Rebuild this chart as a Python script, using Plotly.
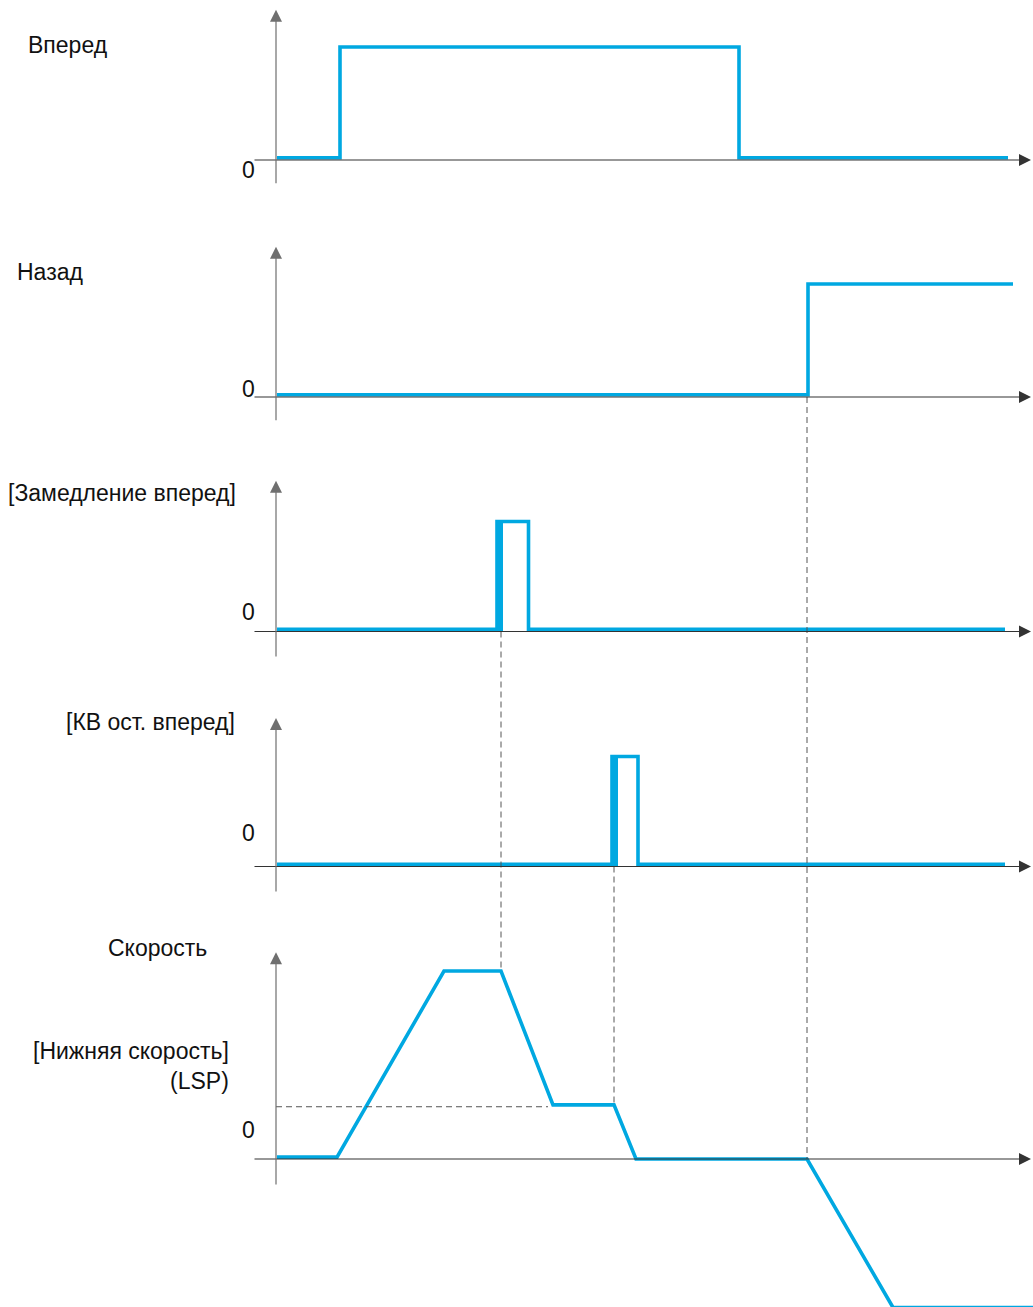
import plotly.graph_objects as go

W, H = 1033, 1307
X0_PX, PX_PER_T = 276.0, 10.0          # pixel of t=0, pixels per time unit

# ---------------- data ----------------
forward_t = [0.1, 6.4, 46.3, 73.2]
forward_v = [0.02, 1, 0.02, 0.02]

reverse_t = [0.1, 53.2, 73.7]
reverse_v = [0.02, 1, 1]

decel_t = [0.1, 22.1, 25.25, 72.9]
decel_v = [0.02, 1, 0.02, 0.02]
decel_burst = [22.0, 22.7]

stop_t = [0.1, 33.6, 36.2, 72.9]
stop_v = [0.02, 1, 0.02, 0.02]
stop_burst = [33.5, 34.2]

speed_t = [0.1, 6.1, 16.8, 22.5, 27.7, 33.8, 36.0, 53.1, 61.7, 76.0]
speed_hz = [0.5, 0.5, 50, 50, 14.4, 14.4, 0, 0, -39.5, -39.5]
LSP_HZ = 14.4
lsp_dash_end_t = 27.2

labels = ["Вперед", "Назад", "[Замедление вперед]", "[КВ ост. вперед]",
          "Скорость", "[Нижняя скорость]<br>(LSP)"]

# ---------------- layout geometry ----------------
BLUE = "#00A8E1"
AX_H = "#333333"
AX_V = "#6f6f6f"
FONT = "Liberation Sans, Arial, sans-serif"
FS = 23

# per panel: axis pixel row, pixels per unit, vertical-axis top/bottom (units)
panels = [
    dict(a=160.0, s=113.0, top=1.33, bot=-0.22),
    dict(a=397.0, s=113.0, top=1.33, bot=-0.22),
    dict(a=631.5, s=110.0, top=1.37, bot=-0.24),
    dict(a=866.5, s=110.0, top=1.35, bot=-0.24),
    dict(a=1159.0, s=3.76, top=55.0, bot=-7.2),
]

def yname(k):
    return "y" if k == 0 else f"y{k+1}"

def ypaper(k, v):
    p = panels[k]
    return 1 - (p["a"] - v * p["s"]) / H

fig = go.Figure()

line = dict(color=BLUE, width=3.6)
series = [(forward_t, forward_v, "hv"), (reverse_t, reverse_v, "hv"),
          (decel_t, decel_v, "hv"), (stop_t, stop_v, "hv"),
          (speed_t, speed_hz, "linear")]
for k, (t, v, shape) in enumerate(series):
    fig.add_trace(go.Scatter(x=t, y=v, mode="lines", line=dict(line, shape=shape),
                             xaxis="x", yaxis=yname(k), hoverinfo="skip"))

for k, burst in [(2, decel_burst), (3, stop_burst)]:
    fig.add_trace(go.Bar(x=[(burst[0] + burst[1]) / 2], y=[1], width=[burst[1] - burst[0]],
                         base=0, marker=dict(color=BLUE, line=dict(width=0)),
                         xaxis="x", yaxis=yname(k), hoverinfo="skip"))

# dashed guide lines
dash = dict(color="#555555", width=1, dash="6px,4px")
shapes = [
    dict(type="line", xref="x", yref="paper", x0=speed_t[3], x1=speed_t[3],
         y0=ypaper(2, 0), y1=ypaper(4, speed_hz[3]), line=dash),
    dict(type="line", xref="x", yref="paper", x0=speed_t[5], x1=speed_t[5],
         y0=ypaper(3, 0), y1=ypaper(4, speed_hz[5]), line=dash),
    dict(type="line", xref="x", yref="paper", x0=speed_t[7], x1=speed_t[7],
         y0=ypaper(1, 0), y1=ypaper(4, 0), line=dash),
    dict(type="line", xref="x", yref="y5", x0=0, x1=lsp_dash_end_t,
         y0=LSP_HZ - 0.5, y1=LSP_HZ - 0.5, line=dash),
]

ann = []
x_left = (253 - X0_PX) / PX_PER_T
x_tip = (1031 - X0_PX) / PX_PER_T
for k, p in enumerate(panels):
    yr = yname(k)
    # horizontal axis with arrow
    ann.append(dict(x=x_tip, y=0, ax=x_left, ay=0, xref="x", yref=yr, axref="x", ayref=yr,
                    text="", showarrow=True, arrowhead=2, arrowsize=2, arrowwidth=1.2,
                    arrowcolor=AX_H))
    # vertical axis with arrow
    ann.append(dict(x=0, y=p["top"], ax=0, ay=p["bot"], xref="x", yref=yr, axref="x", ayref=yr,
                    text="", showarrow=True, arrowhead=2, arrowsize=2, arrowwidth=1.2,
                    arrowcolor=AX_V))

def txt(text, xpx, ypx, xanchor, align="left"):
    return dict(text=text, x=xpx / W, y=1 - ypx / H, xref="paper", yref="paper",
                xanchor=xanchor, yanchor="middle", showarrow=False, align=align,
                font=dict(family=FONT, size=FS, color="#111111"))

ann += [
    txt(labels[0], 26, 45, "left"),
    txt(labels[1], 15, 272, "left"),
    txt(labels[2], 238, 493, "right"),
    txt(labels[3], 237, 722, "right"),
    txt(labels[4], 106, 948, "left"),
    txt(labels[5], 231, 1066, "right", align="right"),
    txt("0", 257, 170, "right"),
    txt("0", 257, 389, "right"),
    txt("0", 257, 612, "right"),
    txt("0", 257, 833, "right"),
    txt("0", 257, 1130, "right"),
]

layout = dict(
    width=W, height=H, autosize=False,
    margin=dict(l=0, r=0, t=0, b=0),
    paper_bgcolor="white", plot_bgcolor="white",
    showlegend=False, bargap=0,
    xaxis=dict(range=[-X0_PX / PX_PER_T, (W - X0_PX) / PX_PER_T], domain=[0, 1],
               visible=False, fixedrange=True),
    shapes=shapes, annotations=ann,
)
for k, p in enumerate(panels):
    key = "yaxis" if k == 0 else f"yaxis{k+1}"
    ax = dict(range=[(p["a"] - H) / p["s"], p["a"] / p["s"]], domain=[0, 1],
              visible=False, fixedrange=True, anchor="x")
    if k > 0:
        ax["overlaying"] = "y"
    layout[key] = ax
fig.update_layout(**layout)

fig.write_html("out.html", config={"displayModeBar": False},
               post_script="document.body.style.margin='0';document.body.style.overflow='hidden';")
